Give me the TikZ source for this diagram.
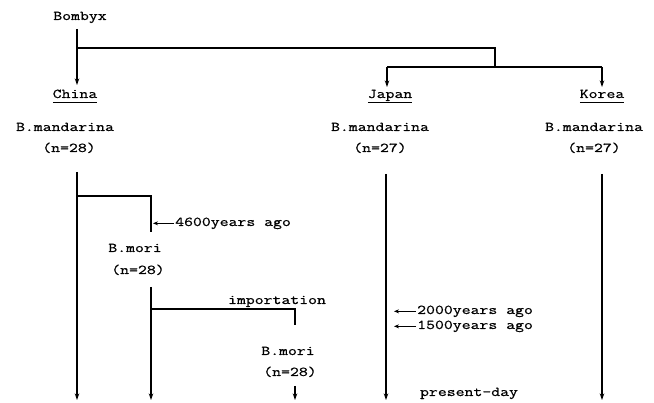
\documentclass[tikz,border=0pt]{standalone}
\usepackage{fontspec}
\setmonofont{Latin Modern Mono}[FakeStretch=1.28,FakeBold=0.8]
\usetikzlibrary{arrows.meta}
\newcommand{\ulword}[1]{\underline{#1\vphantom{p}}}
\begin{document}
\begin{tikzpicture}[x=1pt,y=-1pt,
  lbl/.style={font=\ttfamily\fontsize{13.5}{15}\selectfont, inner sep=0pt, anchor=base},
  ln/.style={line width=1.4pt},
  arr/.style={ln,-{Stealth[length=6.5pt,width=4.5pt]}},
  tag/.style={line width=1.4pt,-{Stealth[length=5pt,width=4pt]}}]
\useasboundingbox (0,0) rectangle (654,403);
% labels
\node[lbl] (bombyx) at (80,20) {Bombyx};
\node[lbl] (china) at (75,98) {\ulword{China}};
\node[lbl] (japan) at (390,98) {\ulword{Japan}};
\node[lbl] (korea) at (602,98) {\ulword{Korea}};
\node[lbl] (bmc) at (65,131) {B.mandarina};
\node[lbl] (bmj) at (380,131) {B.mandarina};
\node[lbl] (bmk) at (594,131) {B.mandarina};
\node[lbl] (nc) at (69,152) {(n=28)};
\node[lbl] (nj) at (380,152) {(n=27)};
\node[lbl] (nk) at (594,152) {(n=27)};
\node[lbl] (mori1) at (135,252) {B.mori};
\node[lbl] (nm1) at (138,274) {(n=28)};
\node[lbl] (mori2) at (288,355) {B.mori};
\node[lbl] (nm2) at (290,376) {(n=28)};
\node[lbl] (imp) at (277,304) {importation};
\node[lbl,anchor=base west] (t4600) at (175,226) {4600years ago};
\node[lbl,anchor=base west] (t2000) at (417,314) {2000years ago};
\node[lbl,anchor=base west] (t1500) at (417,329) {1500years ago};
\node[lbl] (present) at (469,396) {present-day};
% coordinates
\coordinate (b0) at (77,29);
\coordinate (b1) at (77,48);
\coordinate (b2) at (495,48);
\coordinate (b3) at (495,67);
\coordinate (jk1) at (387,67);
\coordinate (jk2) at (602,67);
\coordinate (ca) at (77,85);
\coordinate (ja) at (387,87);
\coordinate (ka) at (602,87);
% top tree
\draw[ln] (b0) -- (b1) -- (b2) -- (b3);
\draw[arr] (b1) -- (ca);
\draw[ln] (jk1) -- (jk2);
\draw[arr] (jk1) -- (ja);
\draw[arr] (jk2) -- (ka);
% lower lines
\coordinate (c0) at (77,172);
\coordinate (c1) at (77,196);
\coordinate (c2) at (151,196);
\coordinate (c3) at (151,232);
\coordinate (cend) at (77,400);
\draw[arr] (c0) -- (cend);
\draw[ln] (c1) -- (c2) -- (c3);
\coordinate (m0) at (151,287);
\coordinate (m1) at (151,309);
\coordinate (m2) at (295,309);
\coordinate (m3) at (295,325);
\coordinate (mend) at (151,400);
\draw[arr] (m0) -- (mend);
\draw[ln] (m1) -- (m2) -- (m3);
\coordinate (r0) at (295,386);
\coordinate (rend) at (295,400);
\draw[arr] (r0) -- (rend);
\coordinate (j0) at (386,174);
\coordinate (jend) at (386,400);
\draw[arr] (j0) -- (jend);
\coordinate (k0) at (602,174);
\coordinate (kend) at (602,400);
\draw[arr] (k0) -- (kend);
% time arrows
\draw[tag] ([xshift=-1pt]t4600.west) -- ++(-21,0);
\draw[tag] ([xshift=-1pt]t2000.west) -- ++(-22,0);
\draw[tag] ([xshift=-1pt]t1500.west) -- ++(-22,0);
\end{tikzpicture}
\end{document}
